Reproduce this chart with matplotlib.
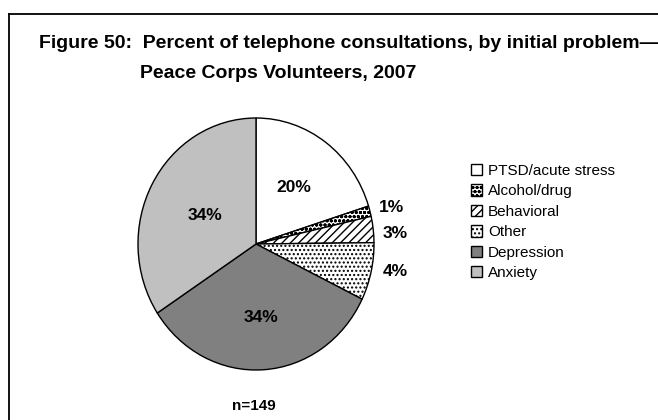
import matplotlib.pyplot as plt
from matplotlib.lines import Line2D

plt.rcParams['font.family'] = ['Liberation Sans', 'DejaVu Sans']
plt.rcParams['hatch.linewidth'] = 1.0

# consultations by initial problem (n=149)
categories = ["PTSD/acute stress", "Alcohol/drug", "Behavioral", "Other", "Depression", "Anxiety"]
counts = [30, 2, 5, 11, 50, 51]
pct_labels = ["20%", "1%", "3%", "4%", "34%", "34%"]

colors = ["white", "white", "white", "white", "#808080", "#c0c0c0"]
hatches = [None, "oooo", "////", "....", None, None]

W, H = 658, 420
fig = plt.figure(figsize=(W / 100, H / 100), dpi=100)

# pie axes (slightly taller than wide, like the original)
cx, cy, rx, ry = 256, 244, 118, 126
ax = fig.add_axes([(cx - rx) / W, (H - cy - ry) / H, 2 * rx / W, 2 * ry / H])
wedges, _ = ax.pie(counts, colors=colors, startangle=90, counterclock=False,
                   wedgeprops=dict(edgecolor="black", linewidth=1.0))
for w, h in zip(wedges, hatches):
    if h:
        w.set_hatch(h)
ax.set_aspect("auto")
ax.set_xlim(-1, 1)
ax.set_ylim(-1, 1)

# percent labels, in pixel positions of the original
label_pos = [(294, 188), (391, 207), (395, 233), (395, 271), (261, 318), (205, 216)]
for (px, py), txt in zip(label_pos, pct_labels):
    fig.text(px / W, 1 - py / H, txt, ha="center", va="center",
             fontsize=12.5, fontweight="bold")

fig.text(349 / W, 1 - 43 / H,
         "Figure 50:  Percent of telephone consultations, by initial problem\u2014",
         ha="center", va="center", fontsize=14, fontweight="bold")
fig.text(278 / W, 1 - 74 / H, "Peace Corps Volunteers, 2007",
         ha="center", va="center", fontsize=14, fontweight="bold")
fig.text(254 / W, 1 - 406 / H, "n=149", ha="center", va="center",
         fontsize=11, fontweight="bold")

fig.legend(wedges, categories, loc="upper left",
           bbox_to_anchor=(471 / W, 1 - 164 / H), frameon=False,
           fontsize=11, handlelength=0.75, handleheight=0.75,
           handletextpad=0.35, labelspacing=0.42, borderpad=0, borderaxespad=0)

# chart border (only left and top show in the crop)
fig.add_artist(Line2D([9 / W, 9 / W], [0, 1 - 14 / H], color="black", lw=1.3))
fig.add_artist(Line2D([9 / W, 1], [1 - 14 / H, 1 - 14 / H], color="black", lw=1.3))

fig.savefig("out.png", dpi=100)
